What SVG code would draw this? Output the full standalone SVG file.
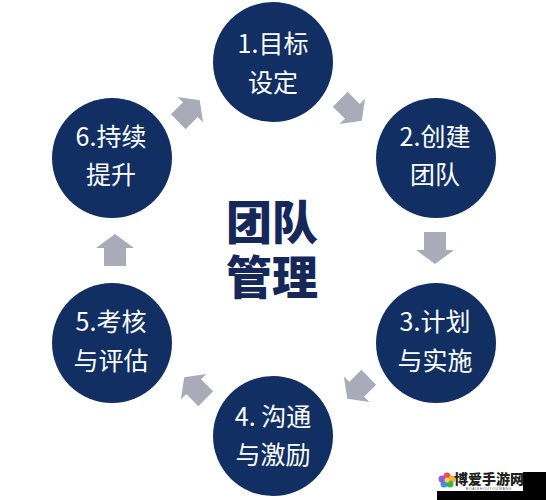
<svg xmlns="http://www.w3.org/2000/svg" width="546" height="500" viewBox="0 0 546 500">
<defs>
<style>
.node circle{fill:#112f62;}
.node text{fill:#ffffff;font-family:"Noto Sans CJK SC","Noto Sans",sans-serif;font-size:25px;text-anchor:middle;}
.title{fill:#16285a;font-family:"Noto Sans CJK SC",sans-serif;font-size:46px;font-weight:900;text-anchor:middle;}
.arr{fill:#a9abb8;}
</style>
<path id="ar" d="M0,-16 L19,-2 L11,-2 L11,16 L-11,16 L-11,-2 L-19,-2 Z"/>
</defs>
<rect width="546" height="500" fill="#ffffff"/>
<g id="connectors" class="arr">
<use href="#ar" transform="translate(351,110) rotate(135) scale(0.95)"/>
<use href="#ar" transform="translate(435,248) rotate(180)"/>
<use href="#ar" transform="translate(358,388) rotate(225) scale(0.95)"/>
<use href="#ar" transform="translate(195,388) rotate(315) scale(0.95)"/>
<use href="#ar" transform="translate(115,250)"/>
<use href="#ar" transform="translate(189,111) rotate(45) scale(0.95)"/>
</g>
<g id="n1" class="node"><circle cx="273" cy="62" r="60"/><text x="273" y="53">1.目标</text><text x="273" y="92">设定</text></g>
<g id="n2" class="node"><circle cx="436" cy="158" r="60"/><text x="435" y="146">2.创建</text><text x="435" y="184">团队</text></g>
<g id="n3" class="node"><circle cx="436" cy="343" r="60"/><text x="435" y="331">3.计划</text><text x="435" y="370">与实施</text></g>
<g id="n4" class="node"><circle cx="273" cy="436" r="60"/><text x="273" y="426">4. 沟通</text><text x="273" y="464">与激励</text></g>
<g id="n5" class="node"><circle cx="112" cy="343" r="60"/><text x="111" y="331">5.考核</text><text x="111" y="370">与评估</text></g>
<g id="n6" class="node"><circle cx="112" cy="158" r="60"/><text x="111" y="146">6.持续</text><text x="111" y="184">提升</text></g>
<g id="center">
<text class="title"><tspan x="272" y="239">团队</tspan><tspan x="272" y="294">管理</tspan></text>
</g>
<g id="watermark">
<rect x="437" y="472" width="109" height="28" fill="#000000"/>
<rect x="430" y="462" width="93" height="29" fill="#ffffff"/>
<circle cx="447" cy="476" r="3.5" fill="#f04a5a"/>
<circle cx="452" cy="479" r="3.5" fill="#f7b32b"/>
<circle cx="450" cy="484" r="3.5" fill="#3bb54a"/>
<circle cx="444" cy="484" r="3.5" fill="#2d9be0"/>
<circle cx="442" cy="479" r="3.5" fill="#9b59d0"/>
<circle cx="447" cy="480" r="2.5" fill="#ffd23f"/>
<text x="489" y="484" font-family="Noto Sans CJK SC,sans-serif" font-size="14" font-weight="900" fill="#222222" text-anchor="middle">博爱手游网</text>
<text x="489" y="490" font-family="Liberation Sans,sans-serif" font-size="3.5" fill="#555555" text-anchor="middle" letter-spacing="0.6">BOAISHOUYOUWANG</text>
</g>
</svg>
